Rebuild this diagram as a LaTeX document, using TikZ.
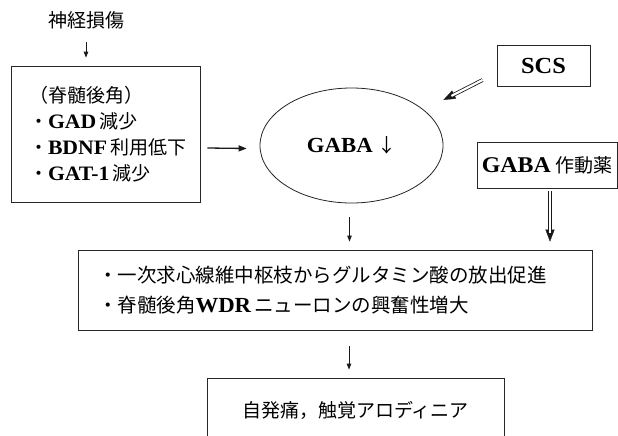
\documentclass[tikz,border=0pt]{standalone}
\usepackage{fontspec}
\setmainfont{Liberation Serif}
\newfontfamily\jp{Noto Sans CJK JP}
\newfontfamily\latf{Liberation Serif}[FakeStretch=1.06]
\newcommand\LB[2][20.5]{{\latf\bfseries\fontsize{#1}{26}\selectfont #2}}
\usetikzlibrary{shapes.geometric,arrows.meta,calc}
\tikzset{
  box/.style={draw=black!85, line width=0.8pt, rectangle, inner sep=0pt},
  arr/.style={draw=black!90, line width=0.9pt, -{Triangle[length=6pt,width=4.5pt]}},
  arrbig/.style={draw=black!90, line width=1.3pt, -{Triangle[length=8pt,width=6pt]}},
  dblline/.style={draw=black!90, double=white, double distance=2.2pt, line width=0.8pt, shorten >=9pt},
  dbltip/.style={draw=white, line width=0.1pt, -{Triangle[length=12pt,width=9pt,color=black!90]}},
}
\begin{document}
\begin{tikzpicture}[x=1pt,y=-1pt, font=\jp\fontsize{19}{26}\selectfont]
\useasboundingbox (0,0) rectangle (618,436);
\clip (0,0) rectangle (618,436);
\fill[white] (0,0) rectangle (618,436);

\node (inj) at (86,20) {神経損傷};
\node[box, minimum width=189pt, minimum height=136pt, text width=153pt, align=left] (left) at (105.5,134)
  {（脊髄後角）\\・\LB{GAD}\,減少\\・\LB{BDNF}\,利用低下\\・\LB{GAT-1}\,減少};
\node[ellipse, draw=black!85, line width=0.8pt, minimum width=183pt, minimum height=115pt, inner sep=0pt] (gaba) at (351.5,145.5)
  {\LB[21.5]{GABA}\ ↓\hspace{8pt}};
\node[box, minimum width=93pt, minimum height=41pt] (scs) at (543.5,65.5) {\LB[23]{SCS}};
\node[box, minimum width=140pt, minimum height=46pt] (agon) at (547,165) {\LB[22.5]{GABA}\ 作動薬};
\node[box, minimum width=514pt, minimum height=80pt, text width=474pt, align=left,
      font=\jp\fontsize{19.5}{30}\selectfont] (mid) at (335,290)
  {・一次求心線維中枢枝からグルタミン酸の放出促進\\・脊髄後角\LB[21.5]{WDR}\,ニューロンの興奮性増大};
\node[box, minimum width=297pt, minimum height=64pt] (bot) at (355.5,410) {自発痛，触覚アロディニア};

\draw[arr] ($(inj.south)+(0,10)$) -- ($(inj.south |- left.north)+(0,-8)$);
\draw[arrbig] ($(left.east)+(7,14)$) -- ($(gaba.west)+(-13,3)$);
\coordinate (s0) at ($(scs.west)+(-14,14.5)$);
\coordinate (s1) at ($(gaba.east)+(0,-45.5)$);
\draw[dbltip] (s0) -- (s1);
\draw[dblline] (s0) -- (s1);
\draw[arr] ($(gaba.south)+(-2,14)$) -- ($(gaba.south |- mid.north)+(-2,-8)$);
\coordinate (a0) at ($(agon.south)+(3,3)$);
\coordinate (a1) at ($(agon.south |- mid.north)+(3,-8)$);
\draw[dbltip] (a0) -- (a1);
\draw[dblline] (a0) -- (a1);
\draw[arr] ($(mid.south)+(14,16)$) -- ($(mid.south |- bot.north)+(14,-8)$);
\end{tikzpicture}
\end{document}
